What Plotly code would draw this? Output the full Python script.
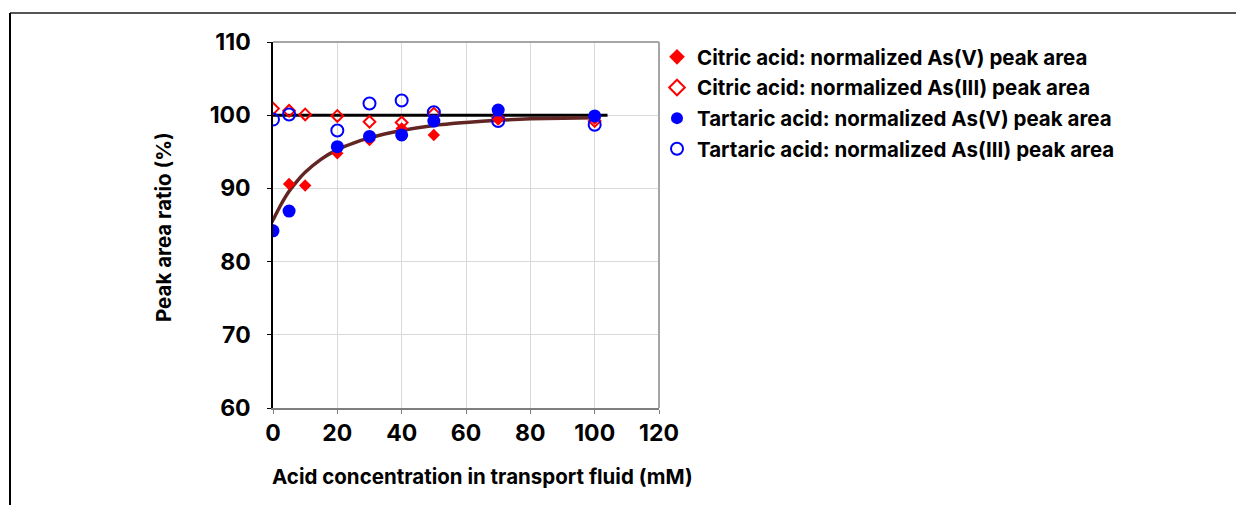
import plotly.graph_objects as go

# ---- data ----
conc = [0, 5, 10, 20, 30, 40, 50, 70, 100]
citric_v = [84.3, 90.6, 90.4, 94.8, 96.6, 98.2, 97.3, 99.4, 99.5]
citric_iii = [100.9, 100.6, 100.1, 99.9, 99.1, 99.0, 100.2, 99.7, 99.2]

conc_t = [0, 5, 20, 30, 40, 50, 70, 100]
tart_v = [84.2, 86.9, 95.7, 97.1, 97.3, 99.2, 100.7, 99.9]
tart_iii = [99.4, 100.1, 97.9, 101.6, 102.0, 100.4, 99.2, 98.7]

ref_x = [0, 104]
ref_y = [100, 100]

fit_x = [-1.6, 0, 2.5, 5, 7.5, 10, 15, 20, 25, 30, 40, 50, 60, 70, 80, 90, 100]
fit_y = [84.5, 85.7, 87.8, 89.6, 91.0, 92.2, 94.0, 95.3, 96.2, 96.9, 97.9, 98.6, 99.0, 99.3, 99.5, 99.6, 99.65]

x_ticks = [0, 20, 40, 60, 80, 100, 120]
y_ticks = [60, 70, 80, 90, 100, 110]

legend_names = [
    "Citric acid: normalized As(V) peak area",
    "Citric acid: normalized As(III) peak area",
    "Tartaric acid: normalized As(V) peak area",
    "Tartaric acid: normalized As(III) peak area",
]

FONT = "Inter, Liberation Sans, sans-serif"
RED = "#ff0000"
BLUE = "#0000ff"

fig = go.Figure()

fig.add_trace(go.Scatter(x=ref_x, y=ref_y, mode="lines",
                         line=dict(color="black", width=3), showlegend=False, hoverinfo="skip"))
fig.add_trace(go.Scatter(x=fit_x, y=fit_y, mode="lines",
                         line=dict(color="#632523", width=3.5, shape="spline", smoothing=0.8),
                         showlegend=False, hoverinfo="skip"))

fig.add_trace(go.Scatter(x=conc, y=citric_iii, mode="markers", name=legend_names[1],
                         legendgroup="b", legendrank=2,
                         marker=dict(symbol="diamond-open", size=9, color=RED, line=dict(width=2, color=RED))))
fig.add_trace(go.Scatter(x=conc_t, y=tart_iii, mode="markers", name=legend_names[3],
                         legendgroup="d", legendrank=4,
                         marker=dict(symbol="circle-open", size=12, color=BLUE, line=dict(width=2, color=BLUE))))
fig.add_trace(go.Scatter(x=conc, y=citric_v, mode="markers", name=legend_names[0],
                         legendgroup="a", legendrank=1,
                         marker=dict(symbol="diamond", size=9.5, color=RED)))
fig.add_trace(go.Scatter(x=conc_t, y=tart_v, mode="markers", name=legend_names[2],
                         legendgroup="c", legendrank=3,
                         marker=dict(symbol="circle", size=13, color=BLUE)))

L, R, T, B = 273, 659, 42, 408
W, H = 1236, 505

fig.update_layout(
    width=W, height=H,
    margin=dict(l=L, r=W - R, t=T, b=H - B),
    paper_bgcolor="white", plot_bgcolor="white",
    font=dict(family=FONT, color="black"),
    legend=dict(x=(657 - L) / (R - L), xanchor="left", y=1.0 - (37 - T) / (B - T), yanchor="top",
                font=dict(size=20.5, family=FONT, weight="bold"),
                traceorder="grouped", tracegroupgap=1,
                itemsizing="constant", bgcolor="rgba(0,0,0,0)"),
    showlegend=True,
)

fig.update_xaxes(range=[0, 120], tickvals=x_ticks, showgrid=True, gridcolor="#d9d9d9", gridwidth=1,
                 showline=True, linecolor="#7f7f7f", linewidth=1.5, zeroline=False,
                 ticks="outside", ticklen=4, tickcolor="#7f7f7f",
                 tickfont=dict(size=23, family=FONT, weight="bold"), ticklabelstandoff=0)
fig.update_yaxes(range=[60, 110], tickvals=y_ticks, showgrid=True, gridcolor="#d9d9d9", gridwidth=1,
                 showline=True, linecolor="black", linewidth=1.5, zeroline=False,
                 ticks="outside", ticklen=4, tickcolor="black",
                 tickfont=dict(size=23, family=FONT, weight="bold"), ticklabelstandoff=12)

# plot border (top/right grey)
fig.add_shape(type="line", xref="paper", yref="paper", x0=0, x1=1, y0=1, y1=1,
              line=dict(color="#a6a6a6", width=2))
fig.add_shape(type="line", xref="paper", yref="paper", x0=1, x1=1, y0=0, y1=1,
              line=dict(color="#a6a6a6", width=2))

# outer frame lines
def px_x(p):
    return (p - L) / (R - L)

def px_y(p):
    return (B - p) / (B - T)

fig.add_shape(type="line", xref="paper", yref="paper", x0=px_x(10), x1=px_x(1240), y0=px_y(13), y1=px_y(13),
              line=dict(color="#555555", width=2))
fig.add_shape(type="line", xref="paper", yref="paper", x0=px_x(10), x1=px_x(10), y0=px_y(13), y1=px_y(510),
              line=dict(color="black", width=2))

fig.add_annotation(text="<b>Acid concentration in transport fluid (mM)</b>", xref="paper", yref="paper",
                   x=px_x(482), y=px_y(477), showarrow=False, font=dict(size=20.5, family=FONT),
                   xanchor="center", yanchor="middle")
fig.add_annotation(text="<b>Peak area ratio (%)</b>", xref="paper", yref="paper",
                   x=px_x(163), y=px_y(227), showarrow=False, textangle=-90, font=dict(size=20.5, family=FONT),
                   xanchor="center", yanchor="middle")

fig.write_html("out.html")
